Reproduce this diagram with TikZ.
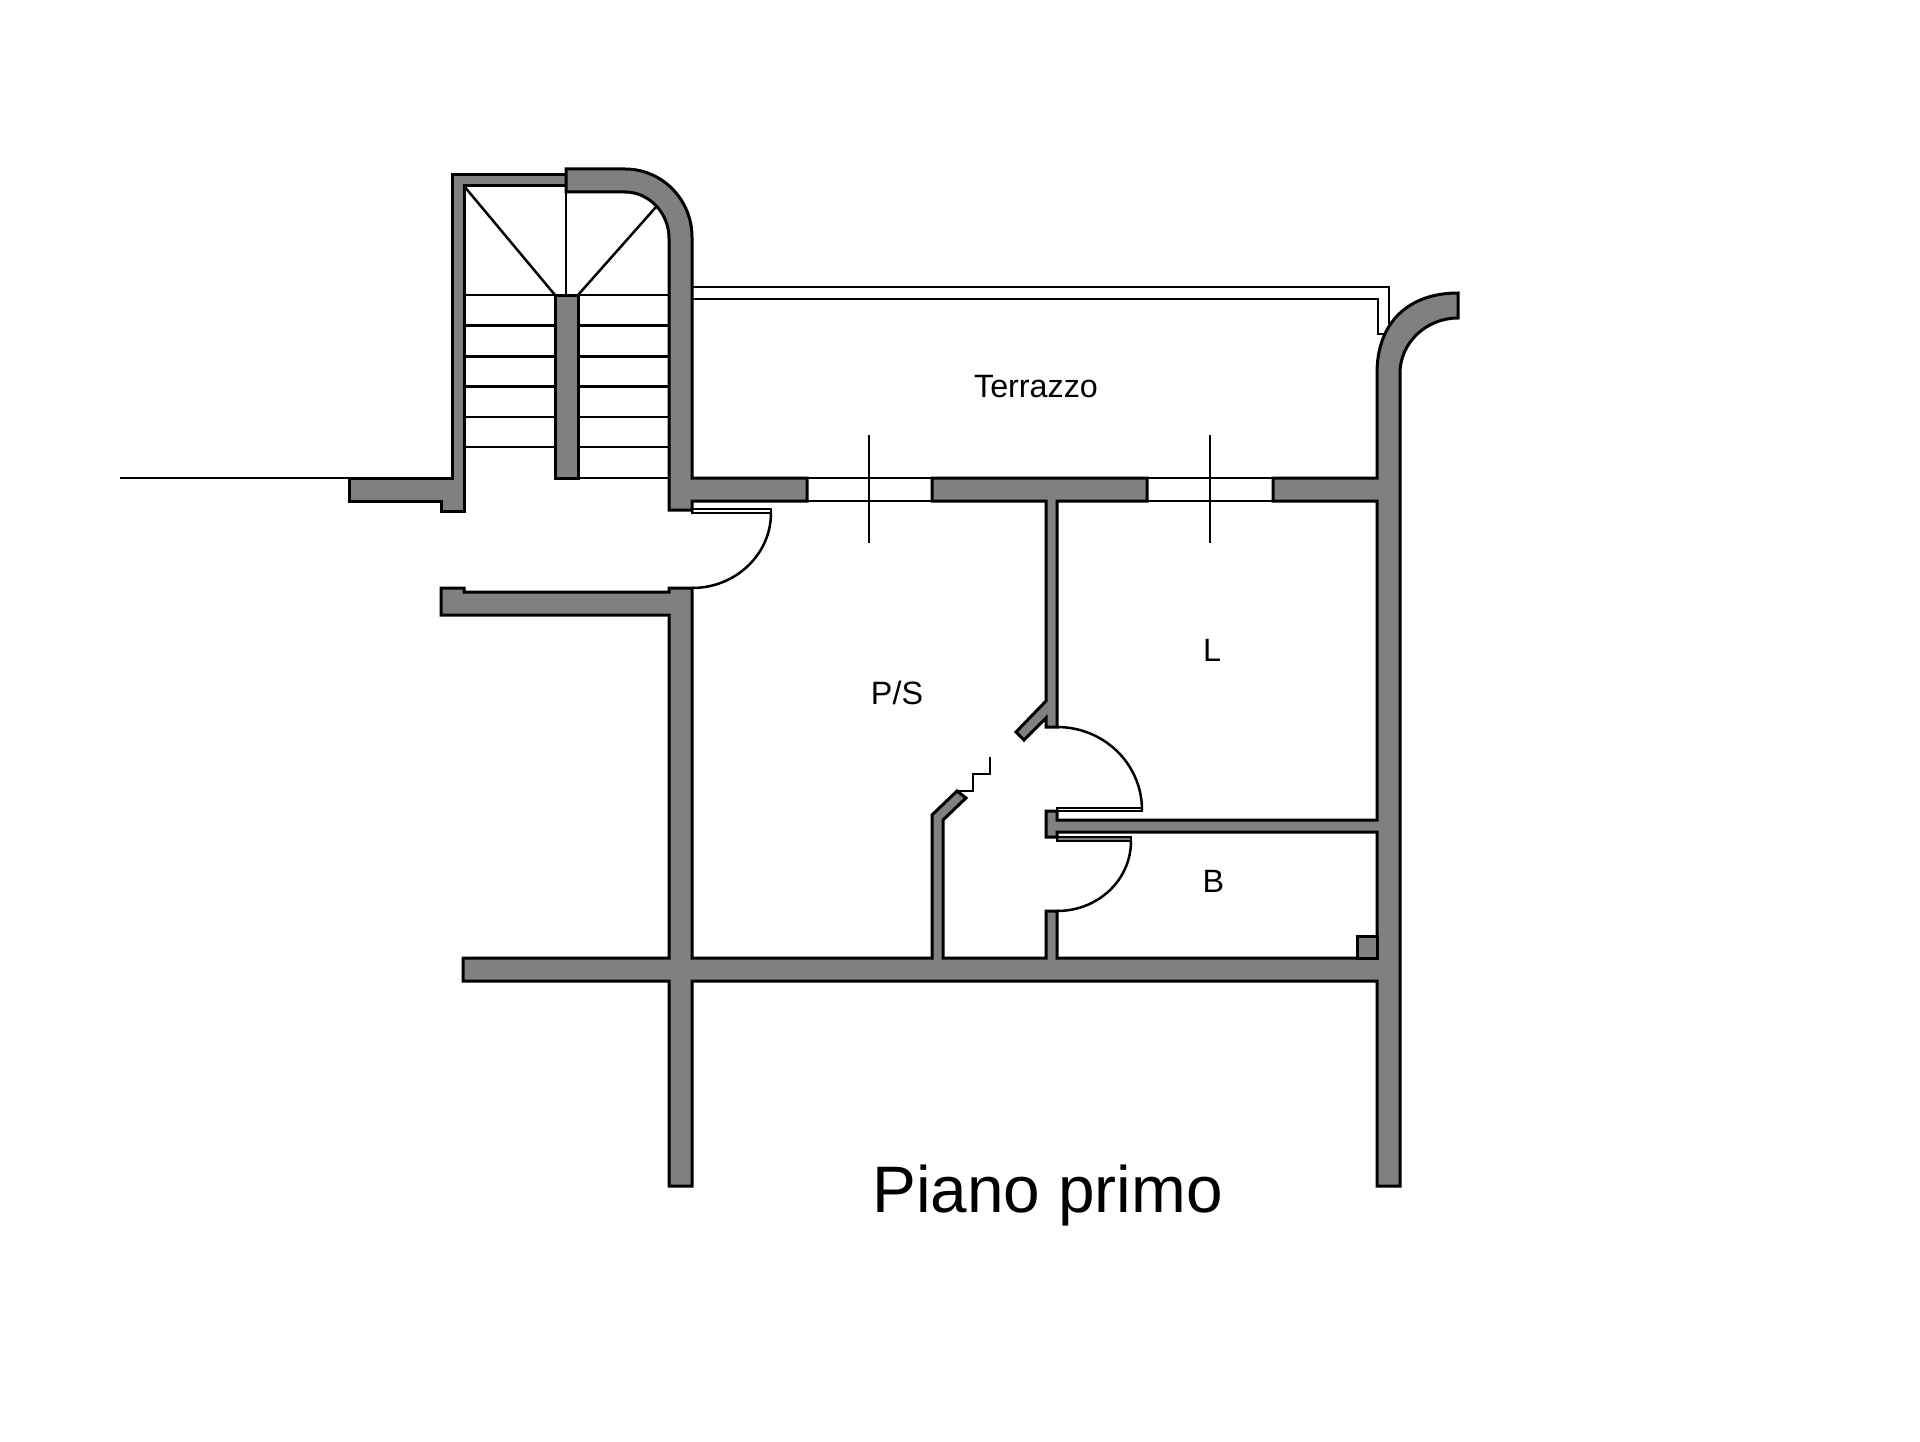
\documentclass[tikz,border=0pt]{standalone}
\usepackage{fontspec}
\setmainfont{Liberation Sans}
\tikzset{
  x=1pt,y=-1pt,
  wall/.style={draw=black,fill=wallgray,line width=3pt,line join=miter},
  thin line/.style={draw=black,line width=2.5pt},
  glass/.style={draw=black,fill=white,line width=2.6pt},
  roomlabel/.style={inner sep=0pt,anchor=base,font=\fontsize{32.3}{36}\selectfont},
  titlelabel/.style={inner sep=0pt,anchor=base,font=\fontsize{65.7}{70}\selectfont}
}
\definecolor{wallgray}{HTML}{808080}
\begin{document}
\begin{tikzpicture}
\useasboundingbox (0,0) rectangle (1920,1442);
\fill[white] (0,0) rectangle (1920,1442);
% ground line
\draw[thin line] (120,478) -- (349,478);
% stair treads and risers
\foreach \yy in {295,325.3,356.3,386.3,417,447}{
  \draw[thin line] (464,\yy) -- (555,\yy);
  \draw[thin line] (578,\yy) -- (669,\yy);
}
\draw[thin line] (578,478) -- (669,478);
\draw[thin line] (464,186) -- (555,295);
\draw[thin line] (566,192) -- (566,295);
\draw[thin line] (578,295) -- (656,207);
% balcony parapet
\draw[thin line] (692,287) -- (1389,287) -- (1389,324);
\draw[thin line] (692,299) -- (1378,299) -- (1378,334) -- (1386,334);
% windows
\draw[glass] (807,478) rectangle (932,501);
\draw[glass] (1147,478) rectangle (1273,501);
\draw[thin line] (869,435) -- (869,543);
\draw[thin line] (1210,435) -- (1210,543);
% door leaves and swings
\draw[glass] (692,509) rectangle (771,513);
\draw[thin line] (771,513) .. controls (771,554) and (736,588) .. (692,588);
\draw[glass] (1057,808) rectangle (1142,811);
\draw[thin line] (1142,810) .. controls (1142,764) and (1104,727) .. (1057,727);
\draw[wall,line width=2.6pt] (1057,837) rectangle (1131,841);
\draw[thin line] (1131,841) .. controls (1131,880) and (1098,911) .. (1057,911);
% stepped line
\draw[thin line] (957,791) -- (973,791) -- (973,774) -- (990,774) -- (990,757);
% walls
\draw[wall] (452,478) -- (452,175) -- (566,175) -- (566,186) -- (464,186) -- (464,511) -- (441,511) -- (441,501) -- (349,501) -- (349,478) -- cycle;
\draw[wall] (566,169) -- (625,169) .. controls (662,169) and (692,199.4) .. (692,237) -- (692,478) -- (807,478) -- (807,501) -- (692,501) -- (692,510) -- (669,510) -- (669,238) .. controls (669,213) and (649,192) .. (625,192) -- (566,192) -- cycle;
\draw[wall] (555,295) rectangle (578,478);
\draw[wall] (932,478) -- (1147,478) -- (1147,501) -- (1057,501) -- (1057,727) -- (1046,727) -- (1046,718) -- (1024,740) -- (1016,732) -- (1046,701) -- (1046,501) -- (932,501) -- cycle;
\draw[wall] (1273,478) -- (1377,478) -- (1377,373) .. controls (1377,323) and (1408,293) .. (1458,293) -- (1458,318) .. controls (1426,318) and (1400,343) .. (1400,373) -- (1400,1186) -- (1377,1186) -- (1377,981) -- (692,981) -- (692,1186) -- (669,1186) -- (669,981) -- (463,981) -- (463,958) -- (669,958) -- (669,615) -- (441,615) -- (441,588) -- (464,588) -- (464,592) -- (669,592) -- (669,588) -- (692,588) -- (692,958) -- (932,958) -- (932,815) -- (957,791) -- (966,798) -- (943,820) -- (943,958) -- (1046,958) -- (1046,911) -- (1057,911) -- (1057,958) -- (1377,958) -- (1377,832) -- (1057,832) -- (1057,837) -- (1046,837) -- (1046,811) -- (1057,811) -- (1057,820) -- (1377,820) -- (1377,501) -- (1273,501) -- cycle;
\draw[wall] (1357,936) rectangle (1377,958);
% labels
\node[roomlabel] (terrazzo) at (1036,397) {Terrazzo};
\node[roomlabel] (ps) at (897,704) {P/S};
\node[roomlabel] (l) at (1212,661) {L};
\node[roomlabel] (b) at (1213.5,892) {B};
\node[titlelabel] (title) at (1047.5,1212) {Piano primo};
\end{tikzpicture}
\end{document}
